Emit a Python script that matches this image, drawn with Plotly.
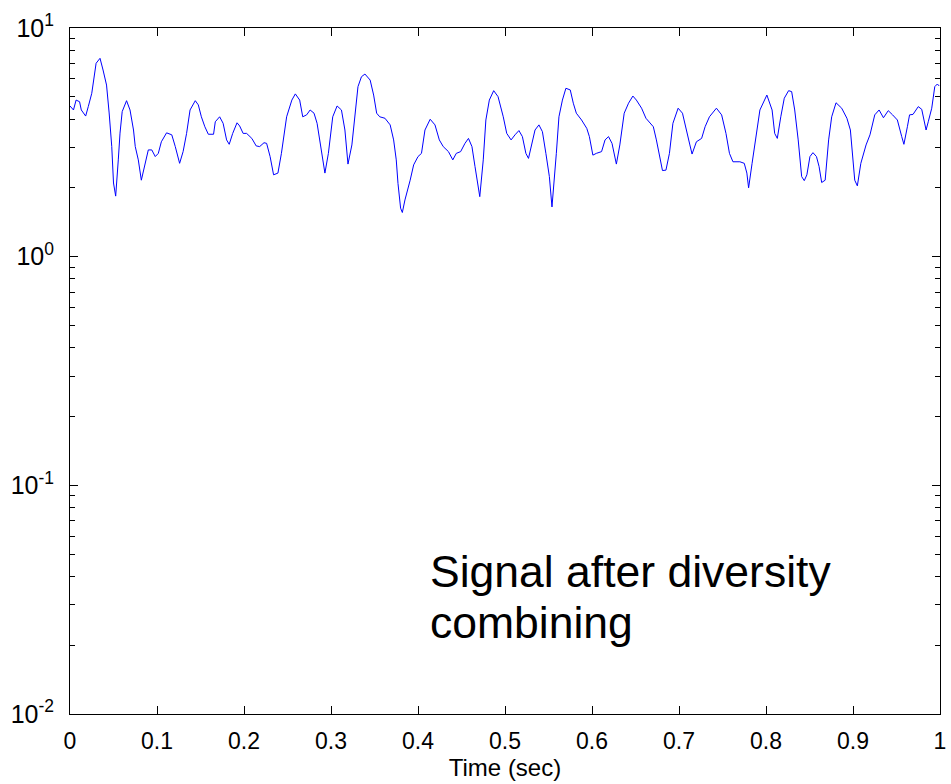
import plotly.graph_objects as go

time_sec = [
    0.000, 0.004, 0.007, 0.011, 0.013, 0.018, 0.021, 0.025, 0.030, 0.0345,
    0.038, 0.042, 0.045, 0.048, 0.050, 0.0525, 0.0555, 0.0575, 0.060, 0.065,
    0.069, 0.073, 0.075, 0.0785, 0.082, 0.086, 0.090, 0.094, 0.098, 0.1015,
    0.105, 0.111, 0.117, 0.121, 0.126, 0.130, 0.134, 0.138, 0.144, 0.1475,
    0.151, 0.155, 0.159, 0.165, 0.167, 0.172, 0.176, 0.180, 0.183, 0.187,
    0.192, 0.195, 0.199, 0.203, 0.209, 0.214, 0.218, 0.223, 0.226, 0.230,
    0.234, 0.239, 0.243, 0.249, 0.255, 0.259, 0.264, 0.2675, 0.272, 0.276,
    0.2805, 0.284, 0.287, 0.293, 0.297, 0.302, 0.307, 0.312, 0.316, 0.3195,
    0.324, 0.328, 0.331, 0.335, 0.339, 0.345, 0.349, 0.3525, 0.356, 0.362,
    0.368, 0.372, 0.375, 0.377, 0.380, 0.382, 0.385, 0.391, 0.395, 0.400,
    0.404, 0.408, 0.414, 0.4195, 0.4245, 0.429, 0.435, 0.440, 0.444, 0.449,
    0.454, 0.458, 0.462, 0.4655, 0.471, 0.475, 0.478, 0.482, 0.487, 0.492,
    0.498, 0.502, 0.507, 0.5115, 0.516, 0.520, 0.524, 0.527, 0.531, 0.5345,
    0.539, 0.543, 0.547, 0.551, 0.554, 0.556, 0.559, 0.562, 0.566, 0.570,
    0.575, 0.5785, 0.582, 0.588, 0.594, 0.597, 0.601, 0.605, 0.611, 0.615,
    0.619, 0.623, 0.628, 0.632, 0.637, 0.642, 0.647, 0.651, 0.657, 0.662,
    0.6705, 0.674, 0.678, 0.681, 0.685, 0.689, 0.693, 0.699, 0.704, 0.708,
    0.7125, 0.715, 0.720, 0.726, 0.730, 0.735, 0.743, 0.749, 0.754, 0.758,
    0.762, 0.770, 0.775, 0.778, 0.780, 0.784, 0.7885, 0.793, 0.801, 0.807,
    0.810, 0.813, 0.817, 0.821, 0.826, 0.8295, 0.833, 0.837, 0.841, 0.844,
    0.847, 0.8505, 0.854, 0.858, 0.861, 0.864, 0.868, 0.872, 0.8755, 0.8805,
    0.887, 0.893, 0.897, 0.900, 0.902, 0.905, 0.909, 0.915, 0.9195, 0.925,
    0.930, 0.935, 0.9405, 0.9455, 0.951, 0.956, 0.9585, 0.9625, 0.965, 0.969,
    0.975, 0.979, 0.9815, 0.984, 0.9865, 0.9905, 0.994, 0.997, 0.999,
]

signal = [
    4.56, 4.38, 4.84, 4.76, 4.38, 4.12, 4.53, 5.18, 7.01, 7.37,
    6.55, 5.63, 4.25, 3.03, 2.10, 1.84, 2.65, 3.47, 4.31, 4.81,
    4.38, 3.58, 3.03, 2.65, 2.16, 2.48, 2.93, 2.93, 2.74, 2.83,
    3.18, 3.48, 3.41, 3.03, 2.56, 2.88, 3.46, 4.38, 4.81, 4.61,
    4.09, 3.70, 3.43, 3.43, 3.89, 4.09, 3.83, 3.24, 3.10, 3.46,
    3.85, 3.73, 3.46, 3.46, 3.29, 3.05, 3.03, 3.15, 3.13, 2.74,
    2.28, 2.32, 2.83, 4.09, 4.84, 5.15, 4.84, 4.09, 4.17, 4.38,
    4.24, 3.83, 3.24, 2.32, 2.83, 4.09, 4.56, 4.38, 3.58, 2.54,
    3.08, 4.24, 5.54, 6.12, 6.29, 5.92, 5.09, 4.24, 4.09, 4.03,
    3.77, 3.24, 2.65, 2.09, 1.63, 1.56, 1.77, 2.16, 2.52, 2.74,
    2.83, 3.58, 3.99, 3.77, 3.24, 3.03, 2.88, 2.65, 2.83, 2.88,
    3.13, 3.29, 3.03, 2.48, 1.83, 2.65, 3.96, 4.84, 5.32, 5.01,
    4.09, 3.46, 3.24, 3.41, 3.56, 3.35, 2.83, 2.69, 3.13, 3.58,
    3.77, 3.52, 2.83, 2.24, 1.65, 2.02, 2.83, 4.09, 4.84, 5.45,
    5.36, 4.69, 4.24, 3.96, 3.64, 3.35, 2.78, 2.83, 2.88, 3.24,
    3.35, 3.13, 2.54, 3.08, 4.24, 4.69, 5.04, 4.84, 4.46, 4.03,
    3.70, 3.24, 2.65, 2.38, 2.39, 2.83, 3.83, 4.46, 4.24, 3.70,
    3.08, 2.81, 3.18, 3.29, 3.70, 4.09, 4.46, 4.17, 3.46, 2.83,
    2.60, 2.60, 2.56, 2.32, 2.00, 2.56, 3.35, 4.38, 5.09, 4.38,
    3.46, 3.29, 4.09, 4.93, 5.32, 5.27, 4.38, 3.24, 2.24, 2.15,
    2.28, 2.74, 2.85, 2.74, 2.48, 2.11, 2.16, 3.24, 4.09, 4.71,
    4.46, 4.03, 3.58, 2.65, 2.16, 2.04, 2.56, 3.08, 3.41, 4.17,
    4.38, 4.05, 4.35, 4.17, 3.96, 3.35, 3.10, 3.70, 4.17, 4.19,
    4.53, 4.41, 3.96, 3.58, 3.89, 4.46, 5.54, 5.69, 5.58,
]

x_tick_vals = [0, 0.1, 0.2, 0.3, 0.4, 0.5, 0.6, 0.7, 0.8, 0.9, 1]
x_tick_text = ["0", "0.1", "0.2", "0.3", "0.4", "0.5", "0.6", "0.7", "0.8", "0.9", "1"]
y_tick_vals = [0.01, 0.1, 1, 10]
y_tick_text = ["10<sup>-2</sup>", "10<sup>-1</sup>", "10<sup>0</sup>", "10<sup>1</sup>"]
y_decades = [0.01, 0.1, 1]
y_minor_mult = [2, 3, 4, 5, 6, 7, 8, 9]
y_minor_vals = [d * m for d in y_decades for m in y_minor_mult]

FONT = "Liberation Sans, Arial, sans-serif"

fig = go.Figure()
fig.add_trace(go.Scatter(
    x=time_sec, y=signal, mode="lines",
    line=dict(color="#0000ff", width=1),
    showlegend=False, hoverinfo="skip",
))

fig.update_layout(
    width=951, height=784,
    margin=dict(l=70, r=11, t=28, b=70),
    paper_bgcolor="white", plot_bgcolor="white",
    font=dict(family=FONT, color="black"),
)

fig.update_xaxes(
    range=[0, 1], tickvals=x_tick_vals, ticktext=x_tick_text,
    ticks="inside", ticklen=8, tickwidth=1, tickcolor="black",
    showline=True, linecolor="black", linewidth=1, mirror="ticks",
    showgrid=False, zeroline=False, automargin=False,
    tickfont=dict(size=23, family=FONT),
    ticklabelstandoff=6,
    title=dict(text="Time (sec)", font=dict(size=24, family=FONT), standoff=6),
)

fig.update_yaxes(
    type="log", range=[-2, 1], tickvals=y_tick_vals, ticktext=y_tick_text,
    ticks="inside", ticklen=8, tickwidth=1, tickcolor="black",
    showline=True, linecolor="black", linewidth=1, mirror="ticks",
    showgrid=False, zeroline=False, automargin=False,
    tickfont=dict(size=25, family=FONT),
    ticklabelstandoff=10,
    minor=dict(tickmode="array", tickvals=y_minor_vals, ticks="inside",
               ticklen=5, tickwidth=1, tickcolor="black", showgrid=False),
)

fig.add_annotation(
    x=0.4115, y=0.207, xref="x", yref="paper",
    text="Signal after diversity", showarrow=False,
    xanchor="left", yanchor="middle",
    font=dict(size=44.5, family=FONT, color="black"),
)
fig.add_annotation(
    x=0.4115, y=0.134, xref="x", yref="paper",
    text="combining", showarrow=False,
    xanchor="left", yanchor="middle",
    font=dict(size=44.5, family=FONT, color="black"),
)

fig.write_html("out.html")
